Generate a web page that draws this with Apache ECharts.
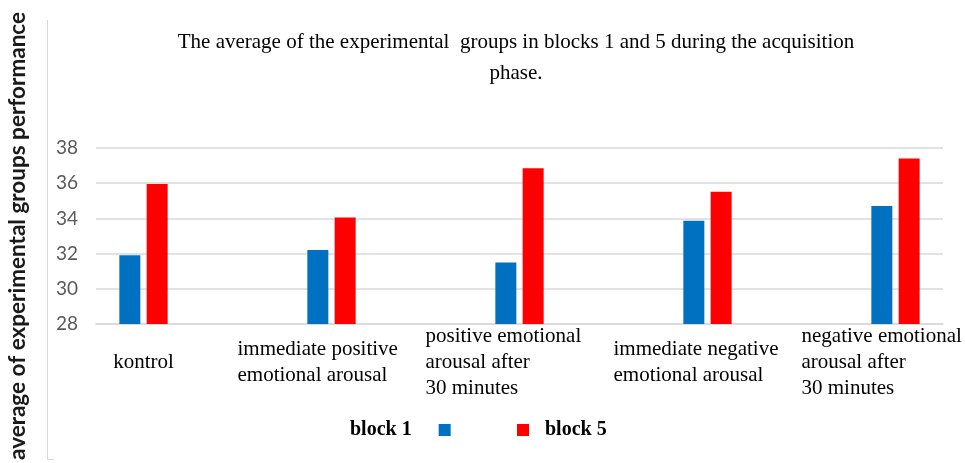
<!DOCTYPE html>
<html>
<head>
<meta charset="utf-8">
<script src="https://cdn.jsdelivr.net/npm/echarts@6/dist/echarts.min.js"></script>
<style>
  html, body { margin: 0; padding: 0; background: #fff; }
  #myChart { width: 965px; height: 463px; }
</style>
</head>
<body>
<div id="myChart"></div>
<script>
const categories = [
  'kontrol',
  'immediate positive\nemotional arousal',
  'positive emotional\narousal after\n30 minutes',
  'immediate negative\nemotional arousal',
  'negative emotional\narousal after\n30 minutes',
];
const block1 = [31.9, 32.2, 31.5, 33.87, 34.7];
const block5 = [35.95, 34.05, 36.85, 35.52, 37.4];
const yMin = 28;
const yMax = 38;
const yStep = 2;

const serif = '"Liberation Serif", "Times New Roman", serif';
const sans = 'Lato, "Open Sans", sans-serif';

const myChartDrawer = echarts.init(document.getElementById('myChart'));
const option = {
  animation: false,
  title: {
    text: 'The average of the experimental  groups in blocks 1 and 5 during the acquisition\nphase.',
    left: 516,
    top: 27,
    textAlign: 'center',
    padding: 0,
    textStyle: {
      fontFamily: serif,
      fontWeight: 'normal',
      fontSize: 21,
      lineHeight: 31,
      color: '#000',
    },
  },
  legend: [
    {
      data: ['block 1'],
      left: 350,
      top: 420,
      padding: 0,
      align: 'right',
      icon: 'rect',
      itemWidth: 12,
      itemHeight: 12,
      selectedMode: false,
      textStyle: { fontFamily: serif, fontWeight: 'bold', fontSize: 20, color: '#000', padding: [0, 22, 0, 0] },
    },
    {
      data: ['block 5'],
      left: 517,
      top: 420,
      padding: 0,
      align: 'left',
      icon: 'rect',
      itemWidth: 12,
      itemHeight: 12,
      selectedMode: false,
      textStyle: { fontFamily: serif, fontWeight: 'bold', fontSize: 20, color: '#000', padding: [0, 0, 0, 11] },
    },
  ],
  // grid 0: gridlines and axis, grid 1: bars + category labels
  grid: [
    { left: 96, right: 22, top: 148, bottom: 139, outerBoundsMode: 'none' },
    { left: 49.5, width: 940, top: 148, bottom: 139, outerBoundsMode: 'none' },
  ],
  xAxis: [
    {
      gridIndex: 0,
      type: 'category',
      data: categories,
      axisLine: { lineStyle: { color: '#d9d9d9', width: 1.5 } },
      axisTick: { show: false },
      axisLabel: { show: false },
    },
    {
      gridIndex: 1,
      type: 'category',
      data: categories,
      axisLine: { show: false },
      axisTick: { show: false },
      axisLabel: {
        margin: 38,
        width: 188,
        align: 'center',
        verticalAlign: 'middle',
        interval: 0,
        formatter: (v, i) => {
          const tag = i === 0 ? 'c' : 't';
          return v.split('\n').map((s) => '{' + tag + '|' + s + '}').join('\n');
        },
        rich: {
          t: { align: 'left', fontFamily: serif, fontSize: 21, lineHeight: 26, color: '#000' },
          c: { align: 'center', fontFamily: serif, fontSize: 21, lineHeight: 26, color: '#000' },
        },
      },
    },
  ],
  yAxis: [
    {
      gridIndex: 0,
      type: 'value',
      min: yMin,
      max: yMax,
      interval: yStep,
      name: 'average of experimental groups performance',
      nameLocation: 'middle',
      nameGap: 67,
      nameTextStyle: { fontFamily: sans, fontWeight: 'bold', fontSize: 22.5, color: '#1a1a1a' },
      axisLine: { show: false },
      axisTick: { show: false },
      axisLabel: { margin: 18, fontFamily: sans, fontSize: 19, color: '#595959' },
      splitLine: { lineStyle: { color: '#d9d9d9', width: 1.5 } },
    },
    {
      gridIndex: 1,
      type: 'value',
      min: yMin,
      max: yMax,
      interval: yStep,
      show: false,
      splitLine: { show: false },
    },
  ],
  series: [
    {
      name: 'block 1',
      type: 'bar',
      xAxisIndex: 1,
      yAxisIndex: 1,
      data: block1,
      barWidth: 21,
      barGap: '30%',
      itemStyle: { color: '#0070c0' },
    },
    {
      name: 'block 5',
      type: 'bar',
      xAxisIndex: 1,
      yAxisIndex: 1,
      data: block5,
      barWidth: 21,
      barGap: '30%',
      itemStyle: { color: '#ff0000' },
    },
  ],
  graphic: [
    {
      type: 'polyline',
      shape: { points: [[47.5, 20], [47.5, 459.5], [54, 459.5]] },
      style: { stroke: '#d9d9d9', lineWidth: 1, fill: null },
    },
  ],
};
myChartDrawer.setOption(option);
</script>
</body>
</html>
